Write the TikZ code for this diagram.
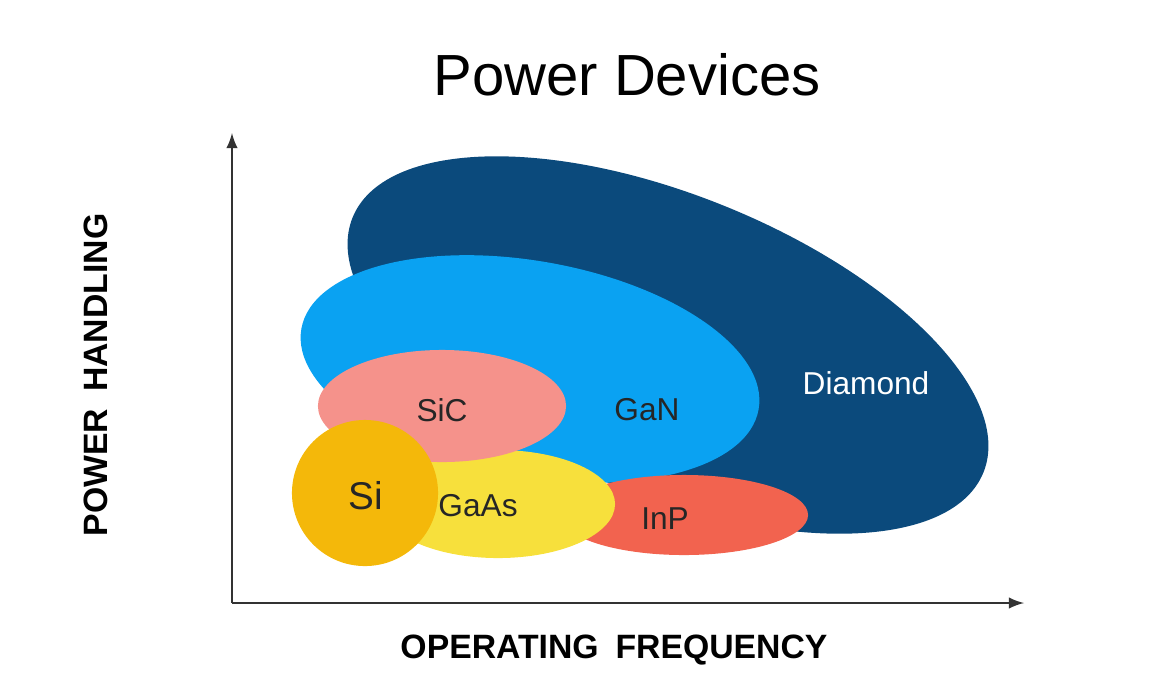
\documentclass[tikz,border=0pt]{standalone}
\usepackage{fontspec}
\setmainfont{Liberation Sans}
\usetikzlibrary{shapes.geometric}
\definecolor{diamondblue}{HTML}{0B4A7C}
\definecolor{ganblue}{HTML}{0AA2F2}
\definecolor{sicpink}{HTML}{F5928B}
\definecolor{gaasyellow}{HTML}{F7E03C}
\definecolor{inpred}{HTML}{F2634F}
\definecolor{siorange}{HTML}{F4B80A}
\begin{document}
\begin{tikzpicture}[x=0.01cm, y=-0.01cm]

  \tikzstyle{blob}=[ellipse, draw=none, inner sep=0pt]
  \tikzstyle{tag}=[font=\fontsize{9}{10}\selectfont, text=black!85]
  \tikzstyle{axis}=[-latex, line width=0.5pt, black!80]
  \tikzstyle{axislabel}=[font=\bfseries\fontsize{9.6}{11}\selectfont]

  \useasboundingbox (0,0) rectangle (1172,684);

  \node [font=\fontsize{16.5}{19}\selectfont] (title) at (627,75) {Power Devices};

  \node [blob, fill=diamondblue, minimum width=6.8cm, minimum height=3.0cm, rotate=-22] (diamond) at (668,345) {};
  \node [blob, fill=ganblue, minimum width=4.64cm, minimum height=2.16cm, rotate=-10] (gan) at (530,369) {};
  \node [blob, fill=inpred, minimum width=2.48cm, minimum height=0.8cm] (inp) at (684,515) {};
  \node [blob, fill=gaasyellow, minimum width=2.34cm, minimum height=1.08cm] (gaas) at (498,504) {};
  \node [blob, fill=sicpink, minimum width=2.48cm, minimum height=1.12cm] (sic) at (442,406) {};
  \node [circle, fill=siorange, minimum size=1.46cm, inner sep=0pt] (si) at (365,493) {};

  \node [tag, text=white] (diamond-t) at (866,383) {Diamond};
  \node [tag] (gan-t) at (647,410) {GaN};
  \node [tag] (sic-t) at (442,410) {SiC};
  \node [tag] (gaas-t) at (478,506) {GaAs};
  \node [tag] (inp-t) at (665,519) {InP};
  \node [tag, font=\fontsize{11}{12}\selectfont] (si-t) at (366,496) {Si};

  \coordinate (origin) at (232,603);
  \coordinate (ytop) at (232,133);
  \coordinate (xend) at (1024,603);
  \draw [axis] (origin) -- (ytop);
  \draw [axis] (origin) -- (xend);

  \node [axislabel, rotate=90] (ylabel) at (96,375) {POWER\hspace{0.5em}HANDLING};
  \node [axislabel] (xlabel) at (614,650) {OPERATING\hspace{0.5em}FREQUENCY};
\end{tikzpicture}
\end{document}
